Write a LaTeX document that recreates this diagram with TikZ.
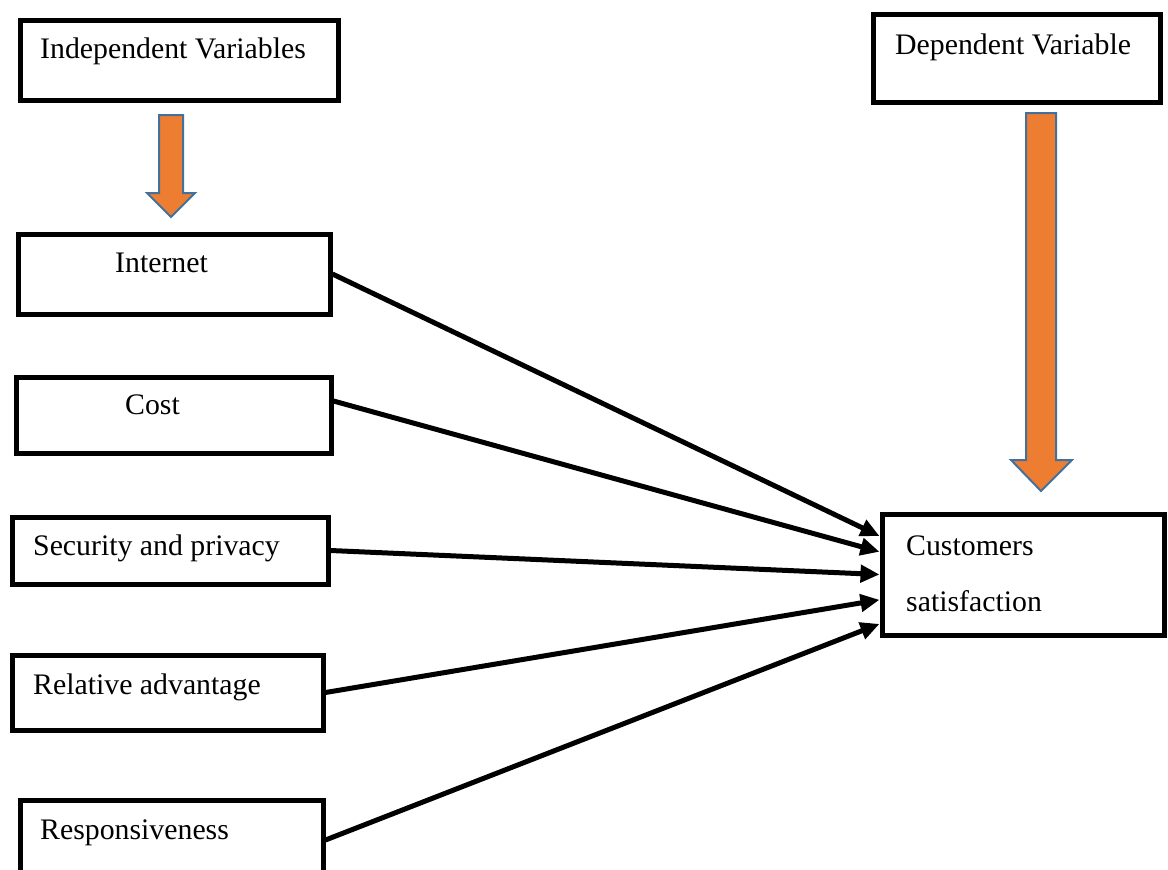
\documentclass[tikz,border=0pt]{standalone}
\usepackage{fontspec}
\setmainfont{Liberation Serif}
\usetikzlibrary{arrows.meta}

\definecolor{arroworange}{RGB}{237,125,49}
\definecolor{arrowblue}{RGB}{65,113,156}

\tikzset{
  varbox/.style={draw,line width=5pt,minimum width=#1,inner sep=0pt},
  varlabel/.style={anchor=base west,inner sep=0pt,font=\fontsize{29.8}{35}\selectfont},
  link/.style={line width=5pt,-{Triangle[length=19pt,width=17pt]}},
  fatarrow/.style={fill=arroworange,draw=arrowblue,line width=2pt,line join=miter}
}

\begin{document}
\begin{tikzpicture}[x=1pt,y=-1pt]
  \useasboundingbox (0,0) rectangle (1168,870);
  % boxes
  \node[varbox=318pt,minimum height=80pt] (indep) at (179,60) {};
  \node[varbox=287pt,minimum height=88pt] (dep) at (1016.5,58) {};
  \node[varbox=312pt,minimum height=80pt] (internet) at (174,274) {};
  \node[varbox=315pt,minimum height=76pt] (cost) at (173.5,415) {};
  \node[varbox=316pt,minimum height=67pt] (security) at (170,550.5) {};
  \node[varbox=311pt,minimum height=75pt] (relative) at (167.5,692.5) {};
  \node[varbox=303pt,minimum height=80pt] (respons) at (171.5,840) {};
  \node[varbox=282pt,minimum height=121pt] (cust) at (1023,574.5) {};
  % texts
  \node[varlabel] (indeptext) at (40,58) {Independent Variables};
  \node[varlabel] (deptext) at (895,54) {Dependent Variable};
  \node[varlabel] (internettext) at (115,272) {Internet};
  \node[varlabel] (costtext) at (125,414) {Cost};
  \node[varlabel] (securitytext) at (33,555) {Security and privacy};
  \node[varlabel] (relativetext) at (33,694) {Relative advantage};
  \node[varlabel] (responstext) at (40,839) {Responsiveness};
  \node[varlabel] (custtext) at (906,555) {Customers};
  \node[varlabel] (custtext2) at (906,611) {satisfaction};
  % orange arrows
  \draw[fatarrow] (159,115)--(183,115)--(183,193)--(195,193)--(171,217)--(147,193)--(159,193)--cycle;
  \draw[fatarrow] (1026,113)--(1056,113)--(1056,460)--(1072,460)--(1041,491)--(1011,460)--(1026,460)--cycle;
  % links
  \draw[link] (internet.east) -- (cust.165);
  \draw[link] (cost.5) -- (cust.171);
  \draw[link] (security.east) -- (cust.west);
  \draw[link] (relative.east) -- (cust.190);
  \draw[link] (respons.east) -- (cust.199);
\end{tikzpicture}
\end{document}
